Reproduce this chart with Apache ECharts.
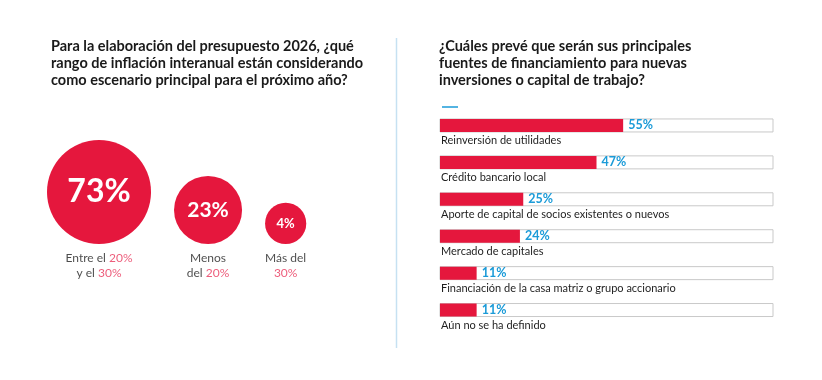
<!DOCTYPE html>
<html><head><meta charset="utf-8">
<script src="https://cdn.jsdelivr.net/npm/echarts@6/dist/echarts.min.js"></script>
<style>html,body{margin:0;padding:0;background:#fff}#c{width:822px;height:380px}</style>
</head><body><div id="c"></div>
<script>
// Left chart data
const inflCats = ['Entre el 20%\ny el 30%', 'Menos\ndel 20%', 'Más del\n30%'];
const inflVals = [73, 23, 4];
// Right chart data
const finCats = ['Reinversión de utilidades', 'Crédito bancario local', 'Aporte de capital de socios existentes o nuevos', 'Mercado de capitales', 'Financiación de la casa matriz o grupo accionario', 'Aún no se ha definido'];
const finVals = [55, 47, 25, 24, 11, 11];

const RED = '#e5173d';
const BLUE = '#1b9bd8';
const FONT = 'Lato';

const radius = v => 11 + 4.8 * Math.sqrt(v);
const GAP = 23;
const centers = [];
let acc = 0;
inflVals.forEach((v, i) => { const r = radius(v); centers.push(acc + r); acc += 2 * r + GAP; });
const leftWidth = acc - GAP;

function richLabel(s) {
  return s.split('\n').map(l => '{t|' + l.replace(/(\d+%)/g, '}{r|$1}{t|') + '}').join('\n');
}

const chart = echarts.init(document.getElementById('c'));
chart.setOption({
  animation: false,
  textStyle: { fontFamily: FONT },
  title: [
    { text: 'Para la elaboración del presupuesto 2026, ¿qué\nrango de inflación interanual están considerando\ncomo escenario principal para el próximo año?',
      left: 51, top: 38, padding: 0,
      textStyle: { fontFamily: FONT, fontSize: 14.5, fontWeight: 'bold', color: '#1a1a1a', lineHeight: 17 } },
    { text: '¿Cuáles prevé que serán sus principales\nfuentes de financiamiento para nuevas\ninversiones o capital de trabajo?',
      left: 439, top: 38, padding: 0,
      textStyle: { fontFamily: FONT, fontSize: 14.5, fontWeight: 'bold', color: '#1a1a1a', lineHeight: 17 } }
  ],
  graphic: [
    { type: 'line', shape: { x1: 396.5, y1: 38, x2: 396.5, y2: 348 }, style: { stroke: '#c6e1f2', lineWidth: 1.5 } },
    { type: 'line', shape: { x1: 442, y1: 107, x2: 458, y2: 107 }, style: { stroke: BLUE, lineWidth: 1.5 } }
  ],
  grid: [
    { left: 47, top: 100, width: leftWidth, bottom: 136 },
    { left: 440, right: 49, top: 107, bottom: 51.5 }
  ],
  xAxis: [
    { gridIndex: 0, type: 'value', min: 0, max: leftWidth, show: false },
    { gridIndex: 1, type: 'value', min: 0, max: 100, show: false }
  ],
  yAxis: [
    { gridIndex: 0, type: 'value', min: 0, max: 1, show: false },
    { gridIndex: 1, type: 'category', data: finCats, inverse: true, show: false }
  ],
  series: [
    { type: 'scatter', xAxisIndex: 0, yAxisIndex: 0,
      data: inflVals.map((v, i) => ({ value: [centers[i], 0],
        symbolSize: 2 * radius(v), symbolOffset: [0, -radius(v)],
        label: { show: true, position: 'inside', formatter: v + '%', color: '#fff', fontWeight: 'bold', fontFamily: FONT, fontSize: Math.round(radius(v) * 0.62) } })),
      itemStyle: { color: RED, opacity: 1 }, z: 2 },
    { type: 'scatter', xAxisIndex: 0, yAxisIndex: 0,
      data: inflVals.map((v, i) => ({ value: [centers[i], 0],
        symbolSize: 2 * radius(v), symbolOffset: [0, -radius(v)],
        label: { show: true, position: 'bottom', distance: 7, formatter: richLabel(inflCats[i]), align: 'center',
          rich: { t: { color: '#1e1e1e', fontSize: 12, fontFamily: FONT, lineHeight: 15 }, r: { color: '#e8345a', fontSize: 12, fontFamily: FONT, lineHeight: 15 } } } })),
      itemStyle: { color: 'rgba(0,0,0,0)' }, z: 1 },
    { type: 'bar', xAxisIndex: 1, yAxisIndex: 1, data: finVals, barWidth: 13,
      itemStyle: { color: RED },
      showBackground: true,
      backgroundStyle: { color: '#fff', borderColor: '#c9c9c9', borderWidth: 1 },
      label: { show: true, position: 'right', distance: 5, formatter: '{c}%', color: BLUE, fontWeight: 'bold', fontSize: 12.5, fontFamily: FONT } },
    { type: 'bar', xAxisIndex: 1, yAxisIndex: 1, data: finVals, barWidth: 13, barGap: '-100%',
      itemStyle: { color: 'rgba(0,0,0,0)' },
      label: { show: true, position: [1, 16], formatter: p => finCats[p.dataIndex], color: '#1e1e1e', fontSize: 11, fontFamily: FONT } }
  ]
});
</script></body></html>
